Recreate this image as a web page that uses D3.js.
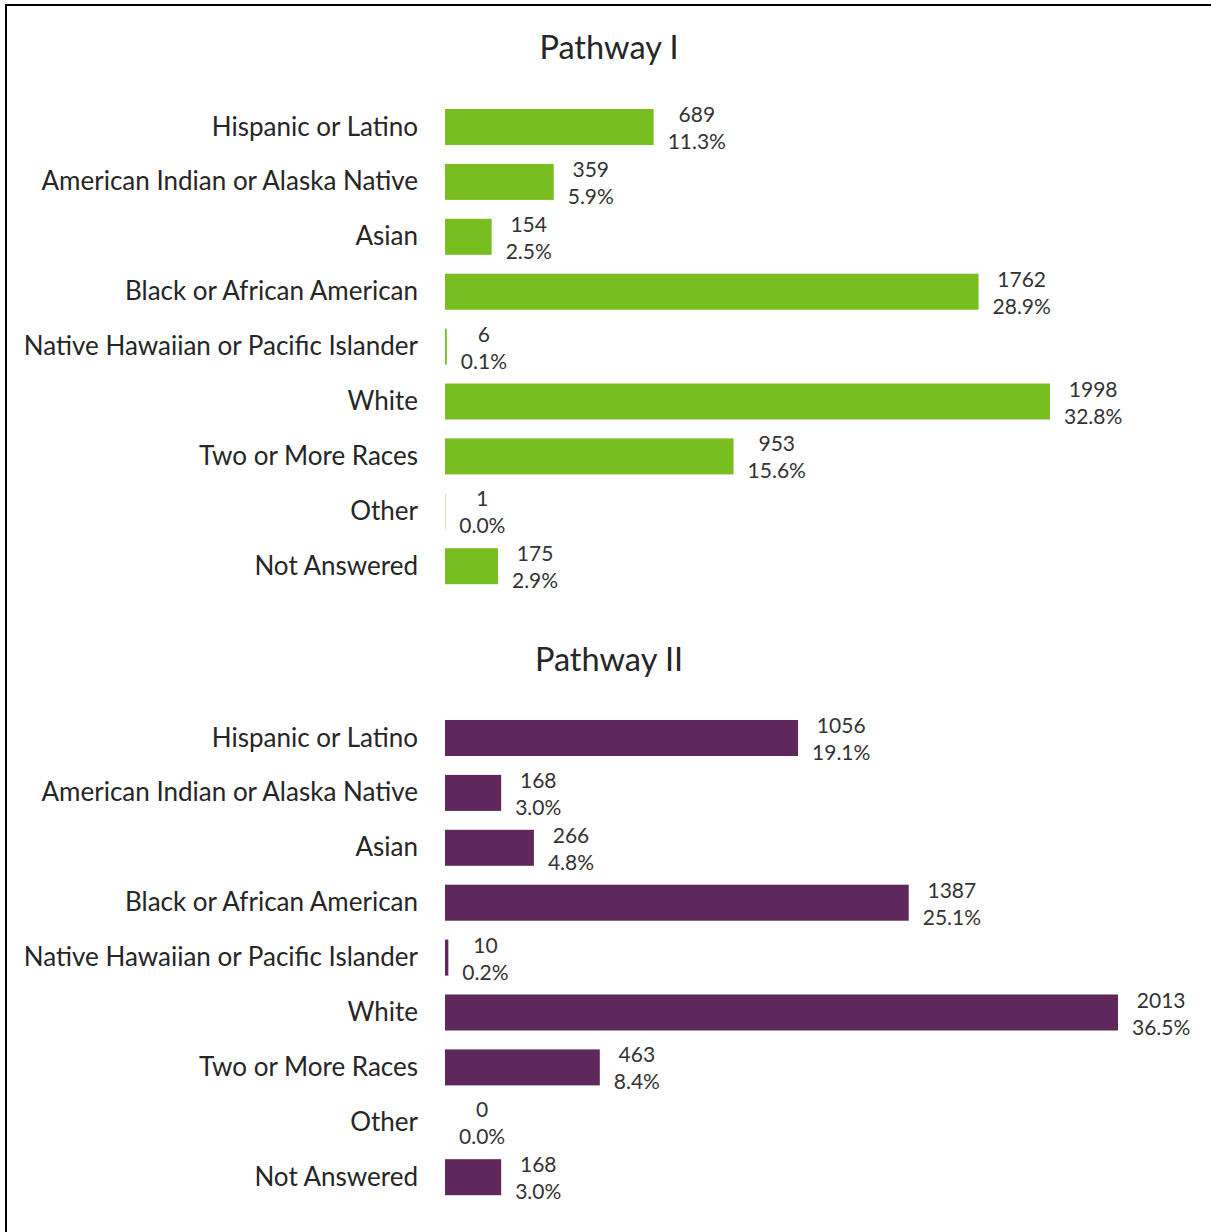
<!DOCTYPE html>
<html>
<head>
<meta charset="utf-8">
<script src="https://cdn.jsdelivr.net/npm/d3@7"></script>
<style>
  html, body { margin: 0; padding: 0; background: #fff; }
  svg { display: block; }
</style>
</head>
<body>
<script>
const categories = [
  "Hispanic or Latino",
  "American Indian or Alaska Native",
  "Asian",
  "Black or African American",
  "Native Hawaiian or Pacific Islander",
  "White",
  "Two or More Races",
  "Other",
  "Not Answered"
];
const panelTitles = ["Pathway I", "Pathway II"];
const pathway1Counts = [689, 359, 154, 1762, 6, 1998, 953, 1, 175];
const pathway1Pcts = ["11.3%", "5.9%", "2.5%", "28.9%", "0.1%", "32.8%", "15.6%", "0.0%", "2.9%"];
const pathway2Counts = [1056, 168, 266, 1387, 10, 2013, 463, 0, 168];
const pathway2Pcts = ["19.1%", "3.0%", "4.8%", "25.1%", "0.2%", "36.5%", "8.4%", "0.0%", "3.0%"];

const W = 1211, H = 1232;
const FONT = "Lato, 'Open Sans', sans-serif";
const svg = d3.select("body").append("svg").attr("width", W).attr("height", H);

svg.append("rect").attr("x", 6).attr("y", 5).attr("width", 1300).attr("height", 1300)
  .attr("fill", "none").attr("stroke", "#000").attr("stroke-width", 2);

const panels = [
  { title: panelTitles[0], counts: pathway1Counts, pcts: pathway1Pcts, color: "#78BE20",
    titleY: 46, yRange: [127, 566.2], xEnd: 1050 },
  { title: panelTitles[1], counts: pathway2Counts, pcts: pathway2Pcts, color: "#5F285C",
    titleY: 658, yRange: [738, 1177.2], xEnd: 1118 }
];

const x0 = 445;
panels.forEach(p => {
  const g = svg.append("g");
  const data = categories.map((c, i) => ({ cat: c, count: p.counts[i], pct: p.pcts[i] }));
  const y = d3.scalePoint().domain(categories).range(p.yRange);
  const x = d3.scaleLinear().domain([0, d3.max(p.counts)]).range([x0, p.xEnd]);
  const barH = y.step() * 0.656;

  g.append("text").attr("x", 609).attr("y", p.titleY)
    .attr("text-anchor", "middle").attr("dominant-baseline", "central")
    .attr("font-family", FONT).attr("font-size", 32.5).attr("fill", "#262626")
    .text(p.title);

  // category axis (labels only)
  const axis = d3.axisLeft(y).tickSize(0).tickPadding(0);
  const ax = g.append("g").attr("transform", `translate(418,0)`).call(axis);
  ax.select(".domain").remove();
  ax.selectAll("text").attr("font-family", FONT).attr("font-size", 26)
    .attr("fill", "#262626").attr("dy", "-2").attr("dominant-baseline", "central");

  g.selectAll("rect.bar").data(data).enter().append("rect")
    .attr("class", "bar")
    .attr("x", x0)
    .attr("y", d => y(d.cat) - barH / 2)
    .attr("width", d => x(d.count) - x0)
    .attr("height", barH)
    .attr("fill", p.color);

  const lab = g.selectAll("g.lab").data(data).enter().append("g").attr("class", "lab");
  lab.each(function(d) {
    const sel = d3.select(this);
    const sx = x(d.count) + 14;
    const c = y(d.cat);
    const pt = sel.append("text").attr("x", sx).attr("y", c + 22)
      .attr("font-family", FONT).attr("font-size", 21).attr("fill", "#333333")
      .text(d.pct);
    const w = pt.node().getComputedTextLength();
    sel.append("text").attr("x", sx + w / 2).attr("y", c - 5)
      .attr("text-anchor", "middle")
      .attr("font-family", FONT).attr("font-size", 21).attr("fill", "#333333")
      .text(d.count);
  });
});
</script>
</body>
</html>
